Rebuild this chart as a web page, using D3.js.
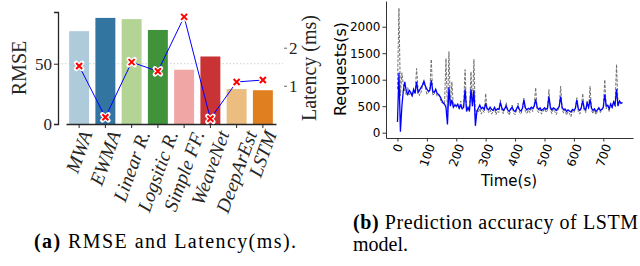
<!DOCTYPE html>
<html>
<head>
<meta charset="utf-8">
<script src="https://cdn.jsdelivr.net/npm/d3@7"></script>
<style>
  body { margin: 0; background: #fff; }
  svg { display: block; }
</style>
</head>
<body>
<svg id="chart" width="640" height="266"></svg>
<script>
// left panel: RMSE bars + latency line
var models = ["MWA", "EWMA", "Linear R.", "Logsitic R.", "Simple FF.", "WeaveNet", "DeepArEst", "LSTM"];
var rmse = [77, 88, 87, 78, 45, 56, 29, 28];
var latency = [1.52, 0.17, 1.62, 1.38, 2.81, 0.13, 1.10, 1.15];
var barColors = ["#aecbdb", "#3275a1", "#b3d495", "#40923b", "#efa6a5", "#ca3335", "#ebbd81", "#df7f20"];
var rmseTicks = [0, 50];
var latencyTicks = [1, 2];

// right panel: requests per second, one sample every 5 s starting at t = 0
var stepSec = 5;
var actual = [
  820, 2350, 700, 1130, 900, 780, 720, 850, 700, 760,
  680, 800, 740, 1210, 820, 700, 760, 880, 920, 850,
  720, 760, 780, 1385, 700, 740, 800, 690, 720, 650,
  560, 600, 520, 1400, 380, 1530, 520, 960, 500, 560,
  470, 520, 450, 600, 480, 520, 1190, 420, 460, 380,
  1150, 500, 1385, 300, 420, 380, 460, 350, 420, 380,
  740, 420, 380, 440, 350, 400, 460, 340, 410, 380,
  620, 420, 360, 450, 570, 380, 330, 420, 520, 370,
  340, 420, 560, 380, 350, 460, 650, 400, 360, 430,
  380, 470, 400, 520, 850, 420, 380, 440, 350, 400,
  460, 380, 420, 815, 430, 360, 450, 400, 340, 420,
  480, 875, 430, 370, 440, 330, 400, 360, 300, 420,
  380, 450, 660, 400, 350, 470, 740, 420, 380, 600,
  450, 875, 420, 360, 430, 340, 400, 460, 380, 420,
  480, 1000, 450, 520, 400, 560, 470, 600, 500, 1290,
  520, 600, 540, 580
];
var predicted = [
  200, 1130, 20, 500, 800, 960, 780, 720, 800, 760,
  700, 820, 740, 960, 760, 800, 850, 900, 975, 880,
  820, 780, 800, 990, 780, 760, 820, 740, 720, 680,
  620, 560, 540, 480, 155, 855, 500, 620, 480, 520,
  500, 540, 460, 520, 450, 480, 820, 400, 480, 420,
  820, 500, 800, 130, 400, 460, 520, 450, 480, 440,
  540, 460, 430, 480, 440, 420, 480, 420, 450, 440,
  560, 470, 420, 460, 500, 430, 400, 450, 480, 420,
  400, 450, 500, 430, 410, 460, 620, 470, 430, 460,
  440, 480, 460, 500, 630, 480, 440, 470, 420, 440,
  470, 440, 460, 680, 480, 430, 470, 450, 420, 460,
  490, 680, 480, 430, 450, 400, 430, 410, 390, 440,
  420, 460, 620, 450, 420, 470, 600, 460, 430, 560,
  480, 630, 460, 420, 450, 400, 430, 470, 420, 440,
  480, 720, 500, 520, 450, 540, 480, 580, 520, 820,
  500, 600, 560, 560
];
var reqTicks = [0, 500, 1000, 1500, 2000];
var timeTicks = [0, 100, 200, 300, 400, 500, 600, 700];

var svg = d3.select("#chart");
var serif = "'Liberation Serif', 'DejaVu Serif', serif";
var sans = "'DejaVu Sans', sans-serif";
var axisColor = "#262626";

// rotated tick labels centred under the tick, like matplotlib rotation=70
function rotateLabels(g, top, fs) {
  var ang = 70 * Math.PI / 180;
  g.selectAll(".tick text").each(function(d) {
    var len = this.getComputedTextLength();
    var bh = len * Math.sin(ang) + fs * 0.75 * Math.cos(ang);
    d3.select(this)
      .attr("x", 0).attr("y", 0).attr("dy", null)
      .attr("text-anchor", "middle")
      .attr("dominant-baseline", "central")
      .attr("transform", "translate(0," + (top + bh / 2) + ") rotate(-70)");
  });
}

// ---------- left panel ----------
var L = { left: 58, right: 283, top: 12, bottom: 124 };

var x1 = d3.scaleBand()
  .domain(models)
  .range([L.left + 8, L.right - 7])
  .paddingInner(0.24)
  .paddingOuter(0.12);

var yR = d3.scaleLinear().domain([0, 92.9]).range([L.bottom, L.top]);
var yL = d3.scaleLinear().domain([-0.006, 2.939]).range([L.bottom, L.top]);

svg.append("line")
  .attr("x1", L.left).attr("x2", L.right)
  .attr("y1", yR(50)).attr("y2", yR(50))
  .attr("stroke", "#d0d0d0").attr("stroke-width", 1)
  .attr("stroke-dasharray", "1.5,2");

svg.selectAll("rect.bar")
  .data(rmse)
  .enter()
  .append("rect")
  .attr("class", "bar")
  .attr("x", function(d, i) { return x1(models[i]); })
  .attr("y", function(d) { return yR(d); })
  .attr("width", x1.bandwidth())
  .attr("height", function(d) { return yR(0) - yR(d); })
  .attr("fill", function(d, i) { return barColors[i]; });

var gy1 = svg.append("g")
  .attr("transform", "translate(" + L.left + ",0)")
  .call(d3.axisLeft(yR).tickValues(rmseTicks).tickSize(4).tickPadding(2));
gy1.selectAll("text").attr("font-family", serif).attr("font-size", 17).attr("fill", axisColor);

var gx1 = svg.append("g")
  .attr("transform", "translate(0," + L.bottom + ")")
  .call(d3.axisBottom(x1).tickSize(4).tickSizeOuter(0));
gx1.selectAll("text").attr("font-family", serif).attr("font-style", "italic")
  .attr("font-size", 19.5).attr("fill", axisColor);
rotateLabels(gx1, 5, 19.5);

[gy1, gx1].forEach(function(g) {
  g.select(".domain").attr("stroke", axisColor).attr("stroke-width", 1.3);
  g.selectAll(".tick line").attr("stroke", axisColor);
});

var gy2 = svg.append("g")
  .attr("transform", "translate(" + (L.right + 1) + ",0)")
  .call(d3.axisRight(yL).tickValues(latencyTicks).tickSize(3).tickPadding(2).tickFormat(d3.format("d")));
gy2.select(".domain").remove();
gy2.selectAll(".tick line").attr("stroke", "#666");
gy2.selectAll("text").attr("font-family", serif).attr("font-size", 17).attr("fill", axisColor);

var latLine = d3.line()
  .x(function(d, i) { return x1(models[i]) + x1.bandwidth() / 2; })
  .y(function(d) { return yL(d); });

svg.append("path")
  .datum(latency)
  .attr("d", latLine)
  .attr("fill", "none")
  .attr("stroke", "#0000ff")
  .attr("stroke-width", 1);

var mk = svg.selectAll("g.mk")
  .data(latency)
  .enter()
  .append("g")
  .attr("class", "mk")
  .attr("transform", function(d, i) {
    return "translate(" + (x1(models[i]) + x1.bandwidth() / 2) + "," + yL(d) + ")";
  });
mk.append("path").attr("d", "M-3,-3L3,3M-3,3L3,-3")
  .attr("stroke", "#fff").attr("stroke-width", 4.5).attr("stroke-linecap", "round");
mk.append("path").attr("d", "M-3,-3L3,3M-3,3L3,-3")
  .attr("stroke", "#ff0000").attr("stroke-width", 2);

svg.append("text")
  .attr("transform", "translate(26," + ((L.top + L.bottom) / 2) + ") rotate(-90)")
  .attr("text-anchor", "middle")
  .attr("font-family", serif).attr("font-size", 20).attr("fill", axisColor)
  .text("RMSE");

svg.append("text")
  .attr("transform", "translate(316," + ((L.top + L.bottom) / 2) + ") rotate(-90)")
  .attr("text-anchor", "middle")
  .attr("font-family", serif).attr("font-size", 20).attr("fill", axisColor)
  .text("Latency (ms)");

// ---------- right panel ----------
var R = { left: 386, right: 633, top: 1, bottom: 138 };
var times = d3.range(actual.length).map(function(i) { return i * stepSec; });

var x2 = d3.scaleLinear().domain([-39, 801]).range([R.left, R.right]);
var y2 = d3.scaleLinear().domain([-100, 2485]).range([R.bottom, R.top]);

var line2 = d3.line()
  .x(function(d, i) { return x2(times[i]); })
  .y(function(d) { return y2(d); });

svg.append("path")
  .datum(actual)
  .attr("d", line2)
  .attr("fill", "none")
  .attr("stroke", "#6e6e6e")
  .attr("stroke-width", 1)
  .attr("stroke-dasharray", "3,1.5");

svg.append("path")
  .datum(predicted)
  .attr("d", line2)
  .attr("fill", "none")
  .attr("stroke", "#0000ff")
  .attr("stroke-width", 1.3);

var gy3 = svg.append("g")
  .attr("transform", "translate(" + R.left + ",0)")
  .call(d3.axisLeft(y2).tickValues(reqTicks).tickSize(3.5).tickPadding(2)
    .tickSizeOuter(0).tickFormat(d3.format("d")));
gy3.selectAll("text").attr("font-family", sans).attr("font-size", 12).attr("fill", "#000");

var gx3 = svg.append("g")
  .attr("transform", "translate(0," + R.bottom + ")")
  .call(d3.axisBottom(x2).tickValues(timeTicks).tickSize(3.5).tickSizeOuter(0)
    .tickFormat(d3.format("d")));
gx3.selectAll("text").attr("font-family", sans).attr("font-size", 12).attr("fill", "#000");
rotateLabels(gx3, 5, 12);

[gy3, gx3].forEach(function(g) {
  g.select(".domain").attr("stroke", "#333").attr("stroke-width", 1);
  g.selectAll(".tick line").attr("stroke", "#333");
});

svg.append("text")
  .attr("transform", "translate(346,69) rotate(-90)")
  .attr("text-anchor", "middle")
  .attr("font-family", sans).attr("font-size", 16).attr("fill", "#000")
  .text("Requests(s)");

svg.append("text")
  .attr("x", 509).attr("y", 186)
  .attr("text-anchor", "middle")
  .attr("font-family", sans).attr("font-size", 15).attr("fill", "#000")
  .text("Time(s)");

// ---------- captions ----------
function caption(x, y, bold, rest, width) {
  var t = svg.append("text")
    .attr("x", x).attr("y", y)
    .attr("font-family", serif).attr("font-size", 20).attr("fill", "#000");
  if (width) t.attr("textLength", width).attr("lengthAdjust", "spacing");
  if (bold) t.append("tspan").attr("font-weight", "bold").text(bold + " ");
  t.append("tspan").text(rest);
}
caption(34, 248, "(a)", "RMSE and Latency(ms).", 262);
caption(353, 229, "(b)", "Prediction accuracy of LSTM", 285);
caption(353, 251, null, "model.");
</script>
</body>
</html>
